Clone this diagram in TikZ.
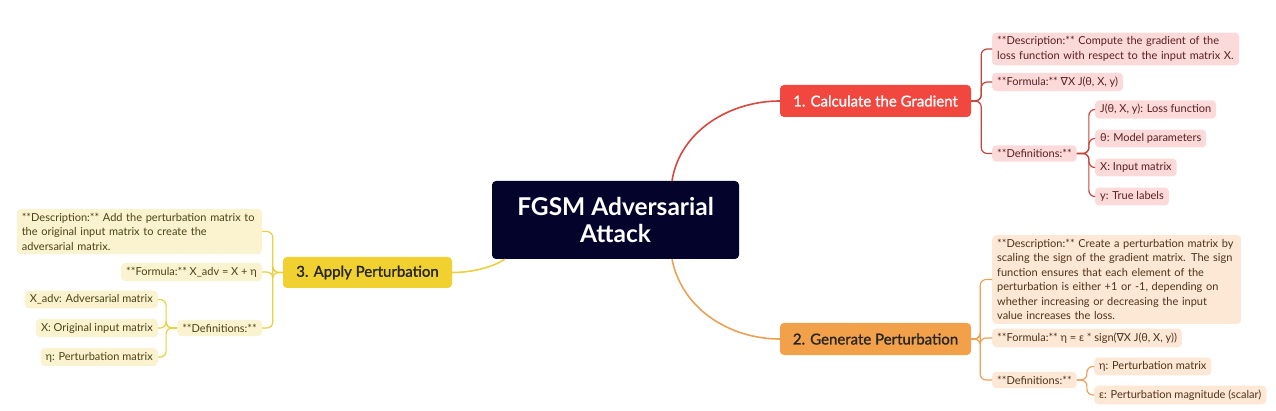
\documentclass[tikz,border=0pt]{standalone}
\usepackage{fontspec}
\setmainfont{Lato}
\newfontfamily\dvs{DejaVu Sans}
\newfontfamily\medfont[FakeBold=1.2]{Lato}
\usetikzlibrary{calc}
\hyphenpenalty=10000
\definecolor{cnavy}{HTML}{03032B}
\definecolor{cred}{HTML}{F2473F}
\definecolor{credline}{HTML}{D9473E}
\definecolor{credsub}{HTML}{C2453C}
\definecolor{cpink}{HTML}{FCDADA}
\definecolor{credtxt}{HTML}{5A1E1E}
\definecolor{corange}{HTML}{F2A04A}
\definecolor{corline}{HTML}{E9A256}
\definecolor{cpeach}{HTML}{FDE8D6}
\definecolor{corgtxt}{HTML}{4F3218}
\definecolor{cyellow}{HTML}{F1D12F}
\definecolor{cyline}{HTML}{EAD03E}
\definecolor{clyel}{HTML}{FBF2CF}
\definecolor{cytxt}{HTML}{4A4312}
\newcommand{\nab}{{\dvs ∇}}
\tikzset{
  mainnode/.style={rounded corners=4pt, inner sep=0pt, align=center, font=\medfont\fontsize{15}{18}\selectfont},
  childbox/.style={rounded corners=4pt, inner xsep=5pt, inner ysep=4pt, align=left, font=\fontsize{11}{14.5}\selectfont},
  kidw/.style={childbox, anchor=west},
  kide/.style={childbox, anchor=east},
  redkid/.style={fill=cpink, text=credtxt},
  orkid/.style={fill=cpeach, text=corgtxt},
  yekid/.style={fill=clyel, text=cytxt},
  link/.style={line width=1.2pt, rounded corners=6pt},
}
\begin{document}
\begin{tikzpicture}[x=1pt,y=-1pt]
\useasboundingbox (0,0) rectangle (1276,411);
% central
\node[mainnode, fill=cnavy, text=white, minimum width=247pt, minimum height=78pt, font=\fontsize{24.5}{27}\selectfont\bfseries] (c) at (615.5,220) {FGSM Adversarial\\Attack};
% main branches
\node[mainnode, fill=cred, text=white, minimum width=191pt, minimum height=32pt] (n1) at (875.5,101) {1. Calculate the Gradient};
\node[mainnode, fill=corange, text=black!85, minimum width=191pt, minimum height=32pt] (n2) at (875.5,339) {2. Generate Perturbation};
\node[mainnode, fill=cyellow, text=black!85, minimum width=169pt, minimum height=31pt] (n3) at (367.5,272.5) {3. Apply Perturbation};
\coordinate (c1) at ($(c.north)+(56.5,0)$);
\coordinate (c2) at ($(c.south)+(56.5,0)$);
\coordinate (c3) at ($(c.south west)+(13,0)$);
\draw[credline, line width=1.6pt] (c1) .. controls ($(c1)+(8,-50)$) and ($(n1.west)+(-50,0)$) .. (n1.west);
\draw[corline, line width=1.6pt] (c2) .. controls ($(c2)+(10,50)$) and ($(n2.west)+(-50,0)$) .. (n2.west);
\draw[cyline, line width=1.6pt] (c3) .. controls ($(c3)+(-12,8)$) and ($(n3.east)+(20,0)$) .. (n3.east);
% branch 1 children
\node[kidw, redkid, text width=237pt] (d1) at (992,49) {**Description:** Compute the gradient of the\\loss function with respect to the input matrix X.};
\node[kidw, redkid] (f1) at (992,82) {**Formula:** \nab X J(θ, X, y)};
\node[kidw, redkid] (df1) at (992,153.5) {**Definitions:**};
\node[kidw, redkid] (j1) at (1095,109.5) {J(θ, X, y): Loss function};
\node[kidw, redkid] (t1) at (1095,138.5) {θ: Model parameters};
\node[kidw, redkid] (x1) at (1095,167.5) {X: Input matrix};
\node[kidw, redkid] (y1) at (1095,196.5) {y: True labels};
\foreach \k in {d1,f1,df1}{\draw[link, credsub] (n1.east) -- ++(10,0) |- (\k.west);}
\foreach \k in {j1,t1,x1,y1}{\draw[link, credsub] (df1.east) -- ++(12,0) |- (\k.west);}
% branch 2 children
\node[kidw, orkid, text width=239pt] (d2) at (992,279.5) {**Description:** Create a perturbation matrix by\\scaling the sign of the gradient matrix. The sign\\function ensures that each element of the\\perturbation is either +1 or -1, depending on\\whether increasing or decreasing the input\\value increases the loss.};
\node[kidw, orkid] (f2) at (992,338) {**Formula:** η = ε * sign(\nab X J(θ, X, y))};
\node[kidw, orkid] (df2) at (992,380) {**Definitions:**};
\node[kidw, orkid] (e2) at (1094,366.5) {η: Perturbation matrix};
\node[kidw, orkid] (m2) at (1094,395) {ε: Perturbation magnitude (scalar)};
\foreach \k in {d2,f2,df2}{\draw[link, corline] (n2.east) -- ++(9,0) |- (\k.west);}
\foreach \k in {e2,m2}{\draw[link, corline] (df2.east) -- ++(10,0) |- (\k.west);}
% branch 3 children
\node[kide, yekid, text width=235pt] (d3) at (262,231.5) {**Description:** Add the perturbation matrix to\\the original input matrix to create the\\adversarial matrix.};
\node[kide, yekid] (f3) at (262,272) {**Formula:** X\_adv = X + η};
\node[kide, yekid] (df3) at (262,328) {**Definitions:**};
\node[kide, yekid] (xa3) at (158,299.5) {X\_adv: Adversarial matrix};
\node[kide, yekid] (x3) at (158,328) {X: Original input matrix};
\node[kide, yekid] (e3) at (158,357) {η: Perturbation matrix};
\foreach \k in {d3,f3,df3}{\draw[link, cyline] (n3.west) -- ++(-10,0) |- (\k.east);}
\foreach \k in {xa3,x3,e3}{\draw[link, cyline] (df3.west) -- ++(-11,0) |- (\k.east);}
\end{tikzpicture}
\end{document}
